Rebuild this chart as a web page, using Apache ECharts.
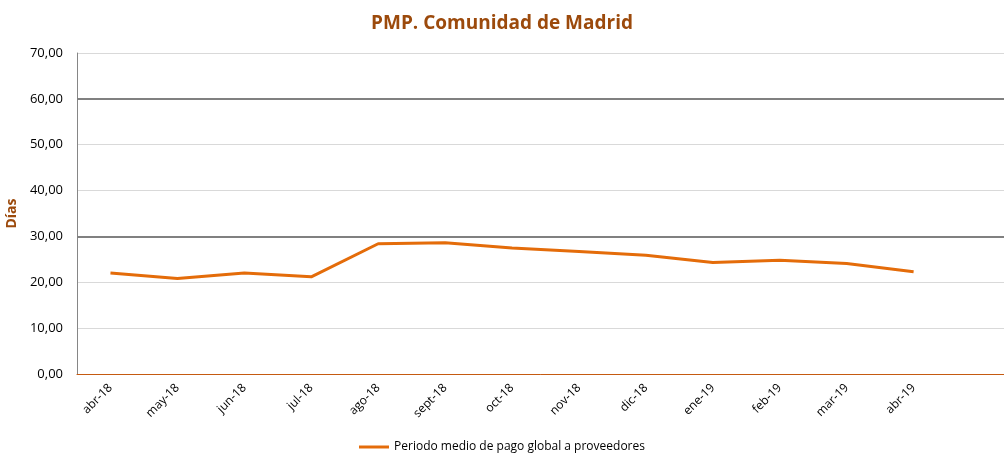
<!DOCTYPE html>
<html>
<head>
<meta charset="utf-8">
<script src="https://cdn.jsdelivr.net/npm/echarts@6/dist/echarts.min.js"></script>
<style>
  html, body { margin: 0; padding: 0; background: #fff; }
  #chart { width: 1004px; height: 459px; }
</style>
</head>
<body>
<div id="chart"></div>
<script>
// meses (la última categoría queda vacía, como en el original)
const months = ['abr-18', 'may-18', 'jun-18', 'jul-18', 'ago-18', 'sept-18', 'oct-18',
  'nov-18', 'dic-18', 'ene-19', 'feb-19', 'mar-19', 'abr-19', ''];
const pmpDays = [22.0, 20.8, 22.0, 21.2, 28.4, 28.6, 27.5, 26.7, 25.9, 24.3, 24.8, 24.1, 22.3, null];
const refLines = [30, 60];

const chart = echarts.init(document.getElementById('chart'));
const font = '"Open Sans", "Noto Sans", sans-serif';

const option = {
  animation: false,
  textStyle: { fontFamily: font },
  title: {
    text: 'PMP. Comunidad de Madrid',
    left: 'center',
    top: 9,
    textStyle: { color: '#9c4a0c', fontSize: 19, fontWeight: 'bold', fontFamily: font }
  },
  // el gráfico original está recortado por la derecha
  grid: { left: 77, right: -10, top: 53, bottom: 85, outerBoundsMode: 'none' },
  legend: {
    bottom: 1,
    left: 'center',
    itemWidth: 30,
    itemHeight: 3,
    icon: 'rect',
    textStyle: { color: '#000', fontSize: 12, fontFamily: font },
    data: ['Periodo medio de pago global a proveedores']
  },
  xAxis: {
    type: 'category',
    data: months,
    boundaryGap: true,
    axisLine: { lineStyle: { color: '#c55a11', width: 1 } },
    axisTick: { show: false },
    axisLabel: { rotate: 45, color: '#000', fontSize: 12, margin: 12, interval: 0, fontFamily: font }
  },
  yAxis: {
    type: 'value',
    min: 0,
    max: 70,
    interval: 10,
    name: 'Días',
    nameLocation: 'middle',
    nameGap: 56,
    nameRotate: 90,
    nameTextStyle: { color: '#9c4a0c', fontWeight: 'bold', fontSize: 14, fontFamily: font },
    axisLine: { show: true, lineStyle: { color: '#868686' } },
    axisTick: { show: false },
    axisLabel: {
      color: '#000', fontSize: 13, margin: 14, fontFamily: font,
      formatter: v => v.toFixed(2).replace('.', ',')
    },
    splitLine: { lineStyle: { color: '#d9d9d9', width: 1 } }
  },
  series: [{
    name: 'Periodo medio de pago global a proveedores',
    type: 'line',
    data: pmpDays,
    symbol: 'none',
    lineStyle: { color: '#e46c0a', width: 3 },
    itemStyle: { color: '#e46c0a' },
    markLine: {
      silent: true,
      symbol: 'none',
      label: { show: false },
      lineStyle: { color: '#808080', width: 2, type: 'solid' },
      data: refLines.map(v => ({ yAxis: v }))
    }
  }]
};

chart.setOption(option);
</script>
</body>
</html>
